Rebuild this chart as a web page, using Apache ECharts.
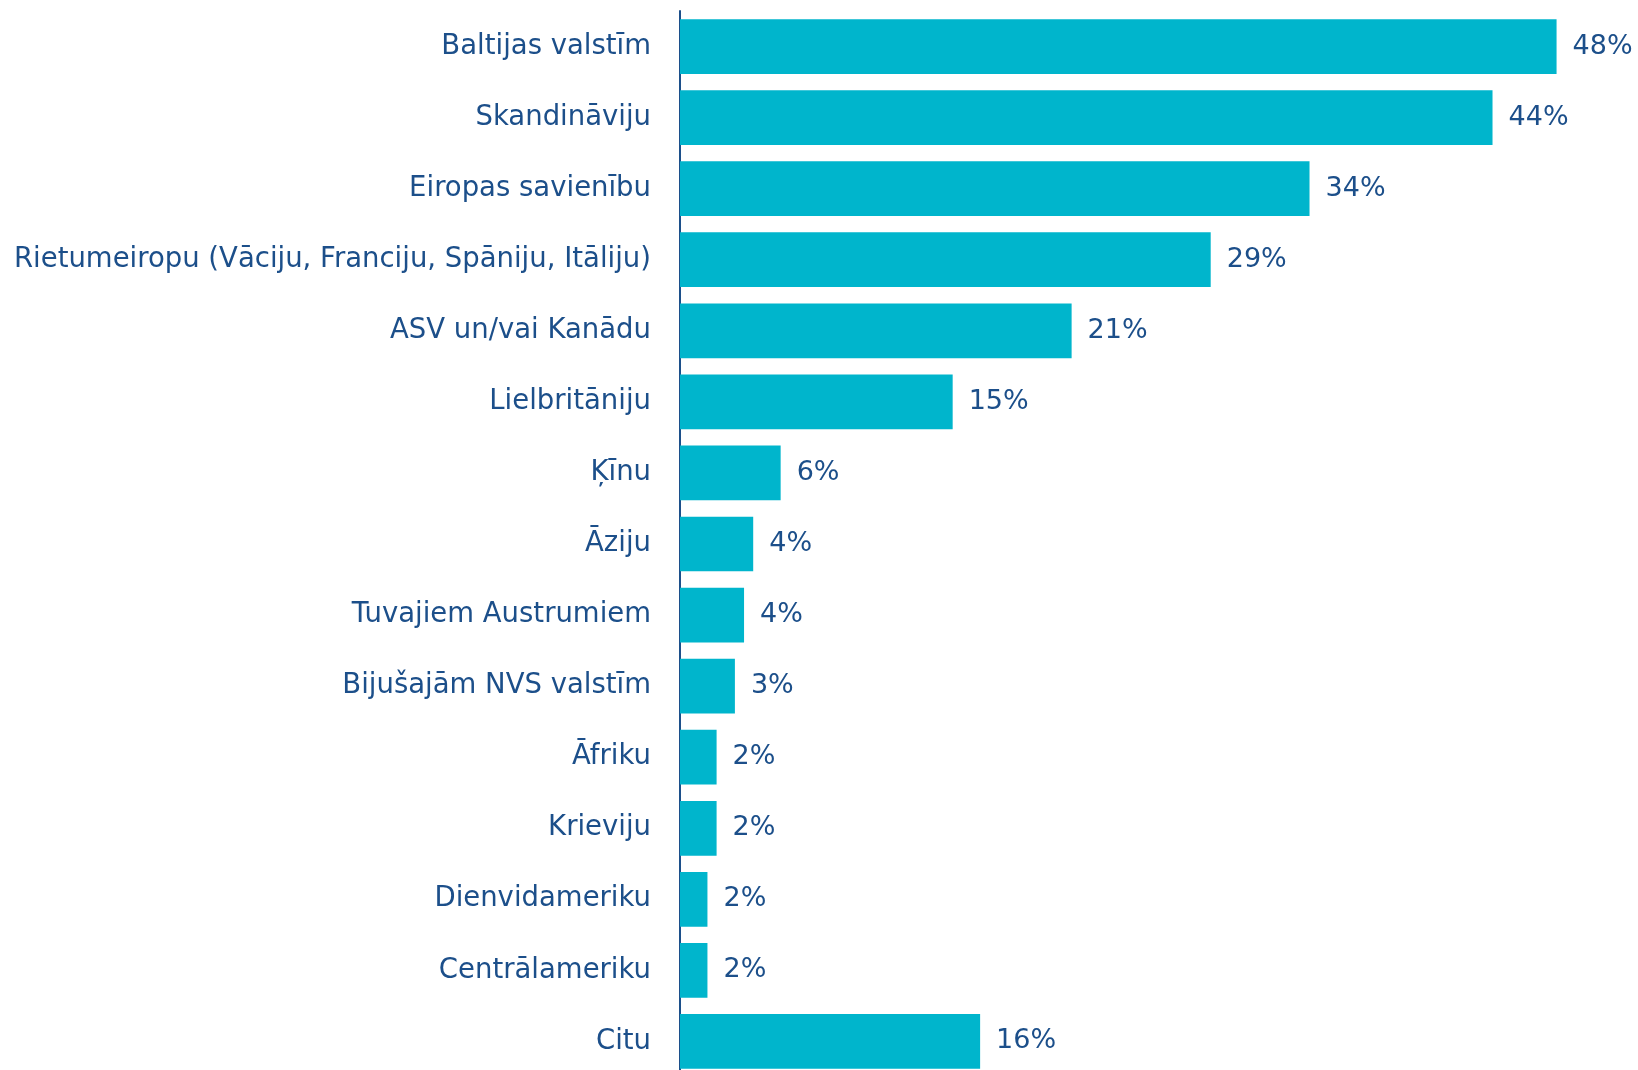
<!DOCTYPE html>
<html>
<head>
<meta charset="utf-8">
<script src="https://cdn.jsdelivr.net/npm/echarts@6/dist/echarts.min.js"></script>
<style>
  html, body { margin: 0; padding: 0; background: #fff; }
  #chart { width: 1638px; height: 1070px; }
</style>
</head>
<body>
<div id="chart"></div>
<script>
// kategorijas (no augšas uz leju)
const categories = [
  'Baltijas valstīm',
  'Skandināviju',
  'Eiropas savienību',
  'Rietumeiropu (Vāciju, Franciju, Spāniju, Itāliju)',
  'ASV un/vai Kanādu',
  'Lielbritāniju',
  'Ķīnu',
  'Āziju',
  'Tuvajiem Austrumiem',
  'Bijušajām NVS valstīm',
  'Āfriku',
  'Krieviju',
  'Dienvidameriku',
  'Centrālameriku',
  'Citu'
]
// procenti, nolasīti no joslu garuma
const values = [47.9, 44.4, 34.4, 29, 21.4, 14.9, 5.5, 4, 3.5, 3, 2, 2, 1.5, 1.5, 16.4]

const textColor = '#1c4f8a'
const barColor = '#00b5cc'

const chart = echarts.init(document.getElementById('chart'))
chart.setOption({
  animation: false,
  grid: {
    left: 680,
    width: 915,
    top: 11,
    height: 1066,
    outerBoundsMode: 'none'
  },
  xAxis: {
    type: 'value',
    min: 0,
    max: 50,
    show: false
  },
  yAxis: {
    type: 'category',
    inverse: true,
    data: categories,
    axisLine: { show: true, lineStyle: { color: '#1c4f8a', width: 2 } },
    axisTick: { show: false },
    axisLabel: {
      margin: 29,
      color: textColor,
      fontSize: 27.5,
      fontFamily: 'DejaVu Sans'
    }
  },
  series: [
    {
      type: 'bar',
      data: values,
      barCategoryGap: '23%',
      itemStyle: { color: barColor },
      label: {
        show: true,
        position: 'right',
        distance: 16,
        color: textColor,
        fontSize: 27,
        fontFamily: 'DejaVu Sans',
        formatter: p => Math.round(p.value) + '%'
      }
    }
  ]
})
</script>
</body>
</html>
